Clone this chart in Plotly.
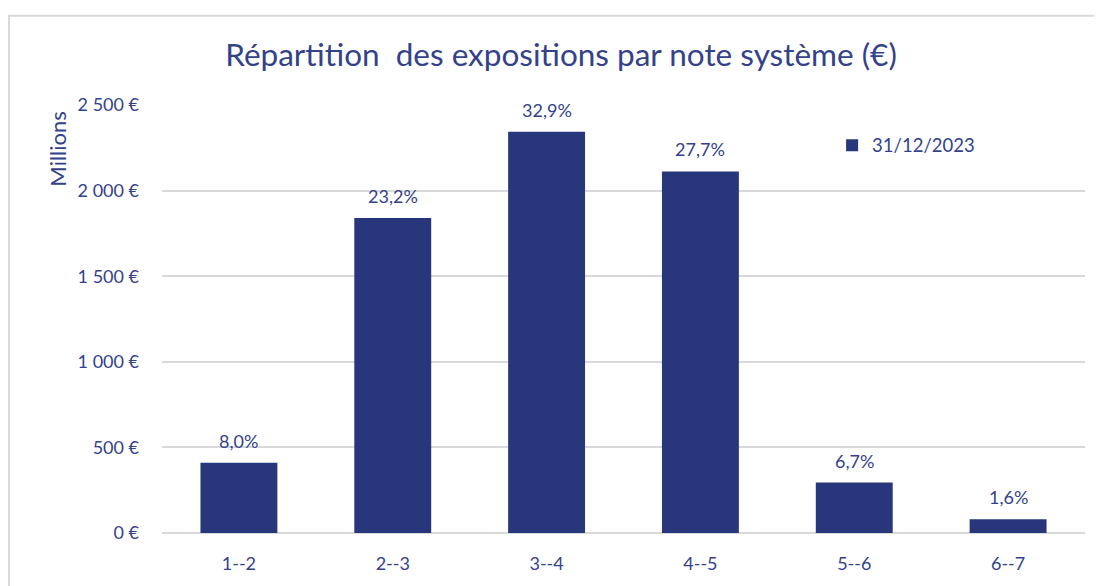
import plotly.graph_objects as go

categories = ["1--2", "2--3", "3--4", "4--5", "5--6", "6--7"]
values = [411, 1840, 2344, 2112, 295, 81]
pct_labels = ["8,0%", "23,2%", "32,9%", "27,7%", "6,7%", "1,6%"]
tick_vals = [0, 500, 1000, 1500, 2000, 2500]
tick_text = ["0 €", "500 €", "1 000 €", "1 500 €", "2 000 €", "2 500 €"]

bar_color = "#28377B"
text_color = "#33428A"
font_family = "Lato, Noto Sans, sans-serif"

fig = go.Figure()
fig.add_trace(go.Bar(
    x=categories, y=values, name="31/12/2023",
    marker=dict(color=bar_color, line=dict(width=0)),
    cliponaxis=False,
))

label_annotations = [
    dict(x=c, y=v, xref="x", yref="y", text=t, showarrow=False,
         xanchor="center", yanchor="bottom", yshift=9,
         font=dict(size=18, color=text_color, family=font_family))
    for c, v, t in zip(categories, values, pct_labels)
]

fig.update_layout(
    width=1094, height=578,
    margin=dict(l=154, r=17, t=97, b=47),
    paper_bgcolor="white", plot_bgcolor="white",
    bargap=0.5,
    font=dict(family=font_family, color=text_color),
    title=dict(text="Répartition  des expositions par note système (€)",
               x=0.5055, xanchor="center", y=0.919, yanchor="middle",
               font=dict(size=31.5, color=text_color, family=font_family)),
    showlegend=True,
    legend=dict(x=0.726, y=0.905, xanchor="left", yanchor="middle",
                font=dict(size=18.5, color=text_color, family=font_family),
                bgcolor="rgba(0,0,0,0)", itemwidth=30),
    xaxis=dict(showgrid=False, showline=False, ticks="",
               tickfont=dict(size=18, color=text_color), ticklabelstandoff=18),
    yaxis=dict(range=[0, 2500], tickvals=tick_vals, ticktext=tick_text,
               showgrid=True, gridcolor="#D9D9D9", gridwidth=2,
               zeroline=True, zerolinecolor="#D9D9D9", zerolinewidth=2,
               showline=False, ticks="", ticklabelstandoff=22,
               tickfont=dict(size=18, color=text_color)),
    shapes=[dict(type="rect", xref="paper", yref="paper",
                 x0=-0.1658, x1=1.05, y0=-0.2, y1=1.2085,
                 line=dict(color="#D9D9D9", width=2), fillcolor="rgba(0,0,0,0)",
                 layer="below")],
    annotations=label_annotations + [
        dict(text="Millions", xref="paper", yref="paper",
             x=-0.1127, y=0.898, xanchor="center", yanchor="middle",
             textangle=-90, showarrow=False,
             font=dict(size=22, color=text_color, family=font_family))],
)

fig.write_html("out.html")
